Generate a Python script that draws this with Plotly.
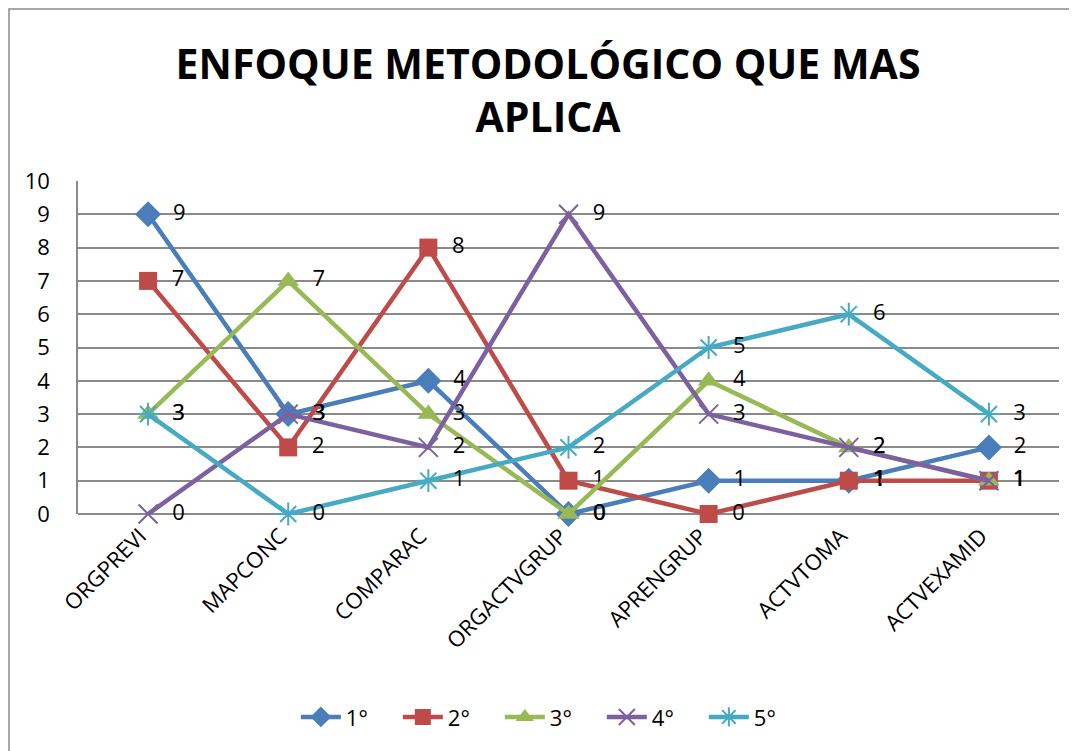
import plotly.graph_objects as go

categories = ["ORGPREVI", "MAPCONC", "COMPARAC", "ORGACTVGRUP", "APRENGRUP", "ACTVTOMA", "ACTVEXAMID"]
series_names = ["1°", "2°", "3°", "4°", "5°"]
s1 = [9, 3, 4, 0, 1, 1, 2]
s2 = [7, 2, 8, 1, 0, 1, 1]
s3 = [3, 7, 3, 0, 4, 2, 1]
s4 = [0, 3, 2, 9, 3, 2, 1]
s5 = [3, 0, 1, 2, 5, 6, 3]
y_ticks = [0, 1, 2, 3, 4, 5, 6, 7, 8, 9, 10]

colors = ["#4A7EBB", "#BE4B48", "#98B954", "#7D60A0", "#46AAC5"]
symbols = ["diamond", "square", "triangle-up", "x-thin-open", "asterisk-open"]
sizes = [20, 18, 19, 19, 19]

FONT = "Open Sans"
fig = go.Figure()
for name, vals, c, sym, sz in zip(series_names, [s1, s2, s3, s4, s5], colors, symbols, sizes):
    thin = sym.endswith("open")
    fig.add_trace(go.Scatter(
        x=categories, y=vals, name=name, mode="lines+markers+text",
        text=["\u00a0\u00a0" + str(v) for v in vals], textposition="middle right",
        textfont=dict(family=FONT, size=22, color="#000000"),
        line=dict(color=c, width=4.5),
        marker=dict(symbol=sym, size=sz, color=c,
                    line=dict(color=c, width=2 if thin else 0)),
        cliponaxis=False,
    ))

W, H = 1061, 743
fig.update_layout(
    width=W, height=H,
    paper_bgcolor="white", plot_bgcolor="white",
    margin=dict(l=70, r=10, t=173, b=237, autoexpand=False),
    title=dict(text="<b>ENFOQUE METODOLÓGICO QUE MAS<br>APLICA</b>",
               x=0.509, xref="container", xanchor="center",
               y=0.905, yref="container", yanchor="top",
               font=dict(family=FONT, size=41, color="#000000")),
    font=dict(family=FONT, size=22, color="#000000"),
    showlegend=True,
    legend=dict(orientation="h", x=0.482, xref="paper", xanchor="center",
                y=-0.61, yanchor="middle", font=dict(family=FONT, size=22),
                itemwidth=40, entrywidth=47, entrywidthmode="pixels",
                traceorder="normal"),
    xaxis=dict(type="category", range=[-0.5, 6.5], tickangle=-45,
               showgrid=False, showline=False, ticks="", automargin=False,
               ticklabelshift=-8, ticklabelstandoff=4,
               tickfont=dict(family=FONT, size=22)),
    yaxis=dict(range=[0, 10], tickvals=y_ticks, showgrid=True, automargin=False,
               gridcolor="#8a8a8a", gridwidth=1.5, showline=True,
               linecolor="#8a8a8a", linewidth=1.5, zeroline=True,
               zerolinecolor="#8a8a8a", zerolinewidth=1.5, ticks="",
               tickfont=dict(family=FONT, size=22), ticklabelstandoff=22),
    shapes=[dict(type="rect", xref="paper", yref="paper",
                 x0=(9 - 78) / 981, x1=1.2, y0=-1.2, y1=(514 - 9) / 333,
                 line=dict(color="#8a8a8a", width=1.5), layer="below")],
)
fig.write_html("out.html")
